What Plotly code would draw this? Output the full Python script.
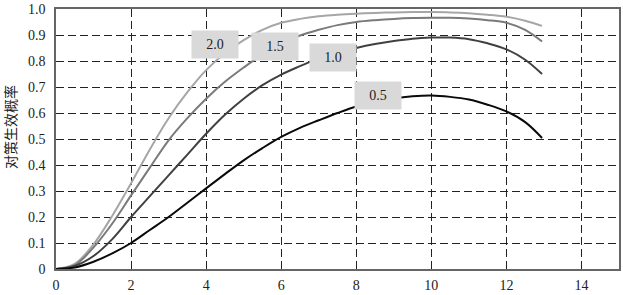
import plotly.graph_objects as go

x_vals = [0, 0.5, 1, 1.5, 2, 2.5, 3, 3.5, 4, 4.5, 5, 5.5, 6, 6.5, 7, 7.5, 8, 8.5, 9, 9.5,
          10, 10.5, 11, 11.5, 12, 12.5, 12.95]

p_20 = [0, 0.02, 0.095, 0.205, 0.33, 0.46, 0.58, 0.68, 0.765, 0.83, 0.88, 0.92, 0.947,
        0.962, 0.972, 0.978, 0.982, 0.985, 0.987, 0.988, 0.988, 0.987, 0.984, 0.978,
        0.97, 0.955, 0.935]
p_15 = [0, 0.015, 0.083, 0.175, 0.283, 0.39, 0.495, 0.58, 0.655, 0.72, 0.775, 0.825,
        0.865, 0.898, 0.92, 0.938, 0.95, 0.957, 0.962, 0.965, 0.966, 0.966, 0.963, 0.957,
        0.947, 0.92, 0.875]
p_10 = [0, 0.012, 0.05, 0.115, 0.2, 0.28, 0.36, 0.44, 0.52, 0.593, 0.655, 0.707, 0.748,
        0.78, 0.81, 0.832, 0.85, 0.865, 0.877, 0.886, 0.89, 0.89, 0.884, 0.868, 0.845,
        0.805, 0.75]
p_05 = [0, 0.006, 0.028, 0.06, 0.1, 0.15, 0.2, 0.255, 0.31, 0.365, 0.418, 0.465, 0.508,
        0.543, 0.572, 0.6, 0.625, 0.643, 0.656, 0.664, 0.667, 0.662, 0.652, 0.632, 0.606,
        0.565, 0.504]

series_names = ["2.0", "1.5", "1.0", "0.5"]
series_vals = [p_20, p_15, p_10, p_05]
series_colors = ["#a6a6a6", "#7a7a7a", "#404040", "#0a0a0a"]
label_pos = [(4.24, 0.862), (5.83, 0.855), (7.38, 0.814), (8.59, 0.668)]

x_ticks = [0, 2, 4, 6, 8, 10, 12, 14]
y_ticks = [0, 0.1, 0.2, 0.3, 0.4, 0.5, 0.6, 0.7, 0.8, 0.9, 1.0]
y_ticktext = ["0", "0.1", "0.2", "0.3", "0.4", "0.5", "0.6", "0.7", "0.8", "0.9", "1.0"]
y_title = "对策生效概率"

SERIF = "Liberation Serif"

fig = go.Figure()
for name, vals, col in zip(series_names, series_vals, series_colors):
    fig.add_trace(go.Scatter(x=x_vals, y=vals, mode="lines", name=name,
                             line=dict(color=col, width=2, shape="spline", smoothing=1.0),
                             showlegend=False))

for name, (lx, ly) in zip(series_names, label_pos):
    fig.add_annotation(x=lx, y=ly, xref="x", yref="y", text=name, showarrow=False,
                       bgcolor="#d9d9d9", width=46, height=27, borderpad=0,
                       font=dict(family=SERIF, size=14, color="#222"))

fig.add_annotation(x=0, y=0.5, xref="paper", yref="paper", text=y_title, showarrow=False,
                   textangle=-90, xshift=-46, yshift=12, xanchor="center", yanchor="middle",
                   font=dict(family="Noto Sans CJK SC", size=14, color="#222"))

fig.update_layout(
    width=623, height=295,
    margin=dict(l=56, r=2, t=6, b=25),
    paper_bgcolor="white", plot_bgcolor="white",
    font=dict(family=SERIF, size=14, color="#222"),
    xaxis=dict(range=[0, 15], tickvals=x_ticks, showgrid=True, gridcolor="#222",
               griddash="8px,4px", gridwidth=1, zeroline=False, showline=True,
               linecolor="#666", linewidth=1.5, mirror=True, ticks="", ticklabelstandoff=2,
               ticklabeloverflow="allow", tickfont=dict(family=SERIF, size=14)),
    yaxis=dict(range=[0, 1.0], tickvals=y_ticks, ticktext=y_ticktext, showgrid=True,
               gridcolor="#222", griddash="8px,4px", gridwidth=1, zeroline=False,
               showline=True, linecolor="#666", linewidth=1.5, mirror=True, ticks="",
               ticklabelstandoff=6, ticklabeloverflow="allow",
               tickfont=dict(family=SERIF, size=14)),
)

fig.write_html("out.html")
